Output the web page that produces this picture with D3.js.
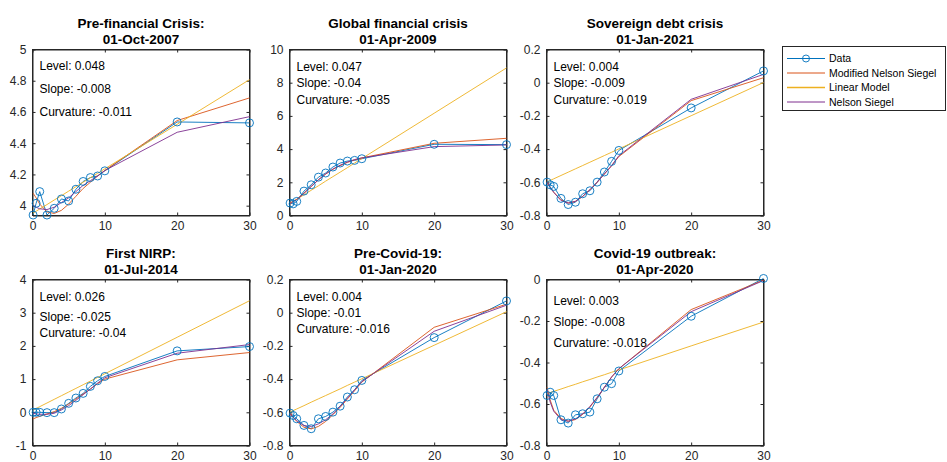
<!DOCTYPE html>
<html>
<head>
<meta charset="utf-8">
<script src="https://cdn.jsdelivr.net/npm/d3@7/dist/d3.min.js"></script>
<style>
  html, body { margin: 0; padding: 0; background: #ffffff; }
  svg { display: block; font-family: "Liberation Sans", Arial, Helvetica, sans-serif; }
</style>
</head>
<body>
<svg id="chart" width="947" height="462"></svg>
<script>
// ---------- data ----------
const maturities = [0.083, 0.5, 1, 2, 3, 4, 5, 6, 7, 8, 9, 10, 20, 30];
const xTicks = [0, 10, 20, 30];
const seriesNames = ["Data", "Modified Nelson Siegel", "Linear Model", "Nelson Siegel"];

const titlesLine1 = ["Pre-financial Crisis:", "Global financial crisis", "Sovereign debt crisis",
                     "First NIRP:", "Pre-Covid-19:", "Covid-19 outbreak:"];
const titlesLine2 = ["01-Oct-2007", "01-Apr-2009", "01-Jan-2021",
                     "01-Jul-2014", "01-Jan-2020", "01-Apr-2020"];
const levels     = ["0.048", "0.047", "0.004", "0.026", "0.004", "0.003"];
const slopes     = ["-0.008", "-0.04", "-0.009", "-0.025", "-0.01", "-0.008"];
const curvatures = ["-0.011", "-0.035", "-0.019", "-0.04", "-0.016", "-0.018"];

const yDomains = [[3.937, 5], [0, 10], [-0.8, 0.2], [-1, 4], [-0.8, 0.2], [-0.8, 0]];
const yTicks = [
  [4, 4.2, 4.4, 4.6, 4.8, 5],
  [0, 2, 4, 6, 8, 10],
  [-0.8, -0.6, -0.4, -0.2, 0, 0.2],
  [-1, 0, 1, 2, 3, 4],
  [-0.8, -0.6, -0.4, -0.2, 0, 0.2],
  [-0.8, -0.6, -0.4, -0.2, 0]
];

// Panel 1: Pre-financial crisis
const p1Data   = [3.94, 4.015, 4.09, 3.94, 3.983, 4.043, 4.03, 4.105, 4.155, 4.18, 4.19, 4.223, 4.536, 4.53];
const p1MNS    = [4.08, 4.05, 4.01, 3.96, 3.95, 3.97, 4.01, 4.06, 4.11, 4.15, 4.19, 4.225, 4.545, 4.69];
const p1Linear = [3.952, 3.964, 3.979, 4.007, 4.036, 4.064, 4.093, 4.121, 4.15, 4.179, 4.207, 4.236, 4.521, 4.807];
const p1NS     = [4.00, 3.99, 3.98, 3.975, 3.99, 4.02, 4.05, 4.09, 4.13, 4.16, 4.19, 4.225, 4.47, 4.57];

// Panel 2: Global financial crisis
const p2Data   = [0.75, 0.70, 0.85, 1.47, 1.85, 2.31, 2.56, 2.92, 3.16, 3.28, 3.32, 3.42, 4.29, 4.27];
const p2MNS    = [0.78, 0.85, 0.98, 1.35, 1.75, 2.15, 2.5, 2.78, 3.0, 3.2, 3.35, 3.47, 4.35, 4.65];
const p2Linear = [0.72, 0.84, 0.97, 1.25, 1.52, 1.79, 2.07, 2.34, 2.61, 2.88, 3.16, 3.43, 6.16, 8.89];
const p2NS     = [0.72, 0.82, 0.95, 1.33, 1.75, 2.15, 2.5, 2.8, 3.03, 3.22, 3.37, 3.47, 4.15, 4.25];

// Panel 3: Sovereign debt crisis
const p3Data   = [-0.599, -0.615, -0.625, -0.697, -0.734, -0.72, -0.669, -0.651, -0.599, -0.538, -0.474, -0.408, -0.152, 0.071];
const p3MNS    = [-0.595, -0.63, -0.66, -0.705, -0.725, -0.715, -0.685, -0.645, -0.6, -0.55, -0.5, -0.445, -0.108, 0.03];
const p3Linear = [-0.597, -0.589, -0.579, -0.559, -0.539, -0.519, -0.499, -0.479, -0.459, -0.439, -0.419, -0.399, -0.199, 0.001];
const p3NS     = [-0.6, -0.63, -0.66, -0.71, -0.725, -0.715, -0.685, -0.645, -0.6, -0.55, -0.5, -0.44, -0.1, 0.05];

// Panel 4: First NIRP
const p4Data   = [0.0, 0.0, 0.0, -0.01, -0.01, 0.1, 0.27, 0.43, 0.57, 0.78, 0.95, 1.08, 1.85, 1.98];
const p4MNS    = [-0.2, -0.16, -0.12, -0.05, 0.02, 0.12, 0.25, 0.4, 0.55, 0.7, 0.86, 1.0, 1.58, 1.8];
const p4Linear = [0.07, 0.115, 0.17, 0.28, 0.39, 0.5, 0.61, 0.72, 0.83, 0.94, 1.05, 1.16, 2.26, 3.36];
const p4NS     = [-0.03, -0.05, -0.06, -0.06, -0.03, 0.07, 0.2, 0.36, 0.53, 0.7, 0.88, 1.04, 1.78, 2.04];

// Panel 5: Pre-Covid-19
const p5Data   = [-0.605, -0.619, -0.639, -0.679, -0.699, -0.639, -0.625, -0.599, -0.563, -0.508, -0.464, -0.408, -0.15, 0.071];
const p5MNS    = [-0.6, -0.63, -0.655, -0.69, -0.7, -0.685, -0.655, -0.615, -0.57, -0.52, -0.47, -0.418, -0.088, 0.051];
const p5Linear = [-0.598, -0.59, -0.58, -0.56, -0.539, -0.519, -0.499, -0.479, -0.459, -0.438, -0.418, -0.398, -0.196, 0.006];
const p5NS     = [-0.61, -0.63, -0.65, -0.68, -0.685, -0.67, -0.645, -0.61, -0.565, -0.515, -0.465, -0.415, -0.112, 0.045];

// Panel 6: Covid-19 outbreak
const p6Data   = [-0.559, -0.543, -0.559, -0.676, -0.692, -0.652, -0.647, -0.639, -0.575, -0.519, -0.502, -0.441, -0.177, 0.005];
const p6MNS    = [-0.52, -0.58, -0.63, -0.67, -0.683, -0.675, -0.65, -0.615, -0.57, -0.52, -0.47, -0.43, -0.145, -0.003];
const p6Linear = [-0.55, -0.545, -0.539, -0.528, -0.516, -0.505, -0.493, -0.482, -0.47, -0.459, -0.447, -0.436, -0.32, -0.205];
const p6NS     = [-0.53, -0.59, -0.635, -0.675, -0.683, -0.672, -0.648, -0.612, -0.568, -0.52, -0.47, -0.43, -0.155, -0.005];

const panelSeries = [
  [p1Data, p1MNS, p1Linear, p1NS],
  [p2Data, p2MNS, p2Linear, p2NS],
  [p3Data, p3MNS, p3Linear, p3NS],
  [p4Data, p4MNS, p4Linear, p4NS],
  [p5Data, p5MNS, p5Linear, p5NS],
  [p6Data, p6MNS, p6Linear, p6NS]
];

// ---------- layout / style ----------
const colors = ["#0072BD", "#D95319", "#EDB120", "#7E2F8E"];
const axisColor = "#262626";
const colLeft = [32.5, 289.5, 546.5];
const rowTop = [49.5, 279.5];
const plotW = 217, plotH = 166;
const annoOffsets = [[20, 43, 66], [21, 37.5, 54], [21, 37.5, 54], [21, 41, 57], [21, 37, 53], [25, 46, 67]];

const svg = d3.select("#chart");

function fmt(v) { return String(+v.toFixed(2)); }

panelSeries.forEach((series, i) => {
  const left = colLeft[i % 3], top = rowTop[Math.floor(i / 3)];
  const x = d3.scaleLinear().domain([0, 30]).range([left, left + plotW]);
  const y = d3.scaleLinear().domain(yDomains[i]).range([top + plotH, top]);
  const g = svg.append("g");

  const tl = 3;
  const xb = g.append("g").attr("transform", `translate(0,${top + plotH})`)
    .call(d3.axisBottom(x).tickValues(xTicks).tickSizeInner(-tl).tickSizeOuter(0).tickPadding(6).tickFormat(fmt));
  const xt = g.append("g").attr("transform", `translate(0,${top})`)
    .call(d3.axisTop(x).tickValues(xTicks).tickSizeInner(-tl).tickSizeOuter(0).tickFormat(""));
  const yl = g.append("g").attr("transform", `translate(${left},0)`)
    .call(d3.axisLeft(y).tickValues(yTicks[i]).tickSizeInner(-tl).tickSizeOuter(0).tickPadding(6).tickFormat(fmt));
  const yr = g.append("g").attr("transform", `translate(${left + plotW},0)`)
    .call(d3.axisRight(y).tickValues(yTicks[i]).tickSizeInner(-tl).tickSizeOuter(0).tickFormat(""));
  [xb, xt, yl, yr].forEach(a => {
    a.select(".domain").attr("stroke", axisColor).attr("stroke-width", 1);
    a.selectAll(".tick line").attr("stroke", axisColor).attr("stroke-width", 1);
    a.selectAll(".tick text").attr("fill", axisColor).style("font-size", "12px")
      .style("font-family", '"Liberation Sans", Arial, sans-serif');
  });
  g.append("rect").attr("x", left).attr("y", top).attr("width", plotW).attr("height", plotH)
    .attr("fill", "none").attr("stroke", axisColor).attr("stroke-width", 1);

  const line = d3.line().x((d, j) => x(maturities[j])).y(d => y(d));
  series.forEach((vals, k) => {
    g.append("path").datum(vals).attr("d", line)
      .attr("fill", "none").attr("stroke", colors[k]).attr("stroke-width", 0.9)
      .attr("stroke-linejoin", "round");
  });
  g.selectAll("circle.m").data(series[0]).join("circle").attr("class", "m")
    .attr("cx", (d, j) => x(maturities[j])).attr("cy", d => y(d)).attr("r", 4)
    .attr("fill", "none").attr("stroke", colors[0]).attr("stroke-width", 0.9);

  const cx = left + plotW / 2;
  const titleTop = top - 22;
  g.append("text").attr("x", cx).attr("y", titleTop).attr("text-anchor", "middle")
    .attr("font-weight", "bold").attr("font-size", 13.5).attr("fill", "#000").text(titlesLine1[i]);
  g.append("text").attr("x", cx).attr("y", titleTop + 16.5).attr("text-anchor", "middle")
    .attr("font-weight", "bold").attr("font-size", 13.5).attr("fill", "#000").text(titlesLine2[i]);

  const annos = ["Level: " + levels[i], "Slope: " + slopes[i], "Curvature: " + curvatures[i]];
  annos.forEach((t, k) => {
    g.append("text").attr("x", left + 7).attr("y", top + annoOffsets[i][k])
      .attr("font-size", 12).attr("fill", "#000").text(t);
  });
});

// ---------- legend ----------
const leg = svg.append("g");
leg.append("rect").attr("x", 782.5).attr("y", 46.5).attr("width", 163).attr("height", 64)
  .attr("fill", "#fff").attr("stroke", axisColor).attr("stroke-width", 1);
const legY = [58.5, 73, 87.5, 102];
seriesNames.forEach((name, k) => {
  leg.append("line").attr("x1", 787).attr("x2", 825).attr("y1", legY[k]).attr("y2", legY[k])
    .attr("stroke", colors[k]).attr("stroke-width", k === 2 ? 1.6 : 1);
  if (k === 0) {
    leg.append("circle").attr("cx", 806).attr("cy", legY[k]).attr("r", 3.5)
      .attr("fill", "none").attr("stroke", colors[0]).attr("stroke-width", 0.9);
  }
  leg.append("text").attr("x", 829).attr("y", legY[k] + 3.8).attr("font-size", 10.5)
    .attr("fill", "#000").text(name);
});
</script>
</body>
</html>
